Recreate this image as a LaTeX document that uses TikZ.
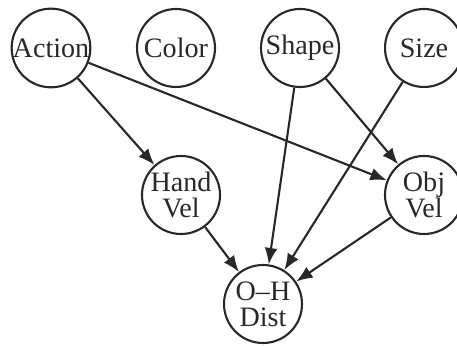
\documentclass[tikz,border=0pt]{standalone}
\usepackage{fontspec}
\setmainfont{Liberation Serif}
\usetikzlibrary{arrows.meta}

\definecolor{inkgray}{RGB}{40,40,40}

\tikzset{
	var/.style={circle, draw=inkgray, line width=0.9pt, text=inkgray,
		minimum size=1.17cm, inner sep=0pt, align=center,
		font=\fontsize{12}{11}\selectfont},
	link/.style={draw=inkgray, line width=0.9pt,
		-{Latex[length=7pt,width=5.5pt]}}
}

\begin{document}
\begin{tikzpicture}
	\useasboundingbox (0,0) rectangle (6.855,5.175);
	%Top row
		\node[var] (action) at (0.765,4.455) {Action};
		\node[var] (color) at (2.64,4.455) {Color};
		\node[var] (shape) at (4.5,4.455) {Shape};
		\node[var] (size) at (6.36,4.455) {Size};
	%Velocities
		\node[var] (handvel) at (2.715,2.25) {Hand\\Vel};
		\node[var] (objvel) at (6.36,2.25) {Obj\\Vel};
	%Distance
		\node[var] (ohdist) at (3.945,0.615) {O--H\\Dist};
	%Links
		\draw[link] (action) -- (handvel);
		\draw[link] (action) -- (objvel);
		\draw[link] (shape) -- (ohdist);
		\draw[link] (shape) -- (objvel);
		\draw[link] (size) -- (ohdist);
		\draw[link] (handvel) -- (ohdist);
		\draw[link] (objvel) -- (ohdist);
\end{tikzpicture}
\end{document}
